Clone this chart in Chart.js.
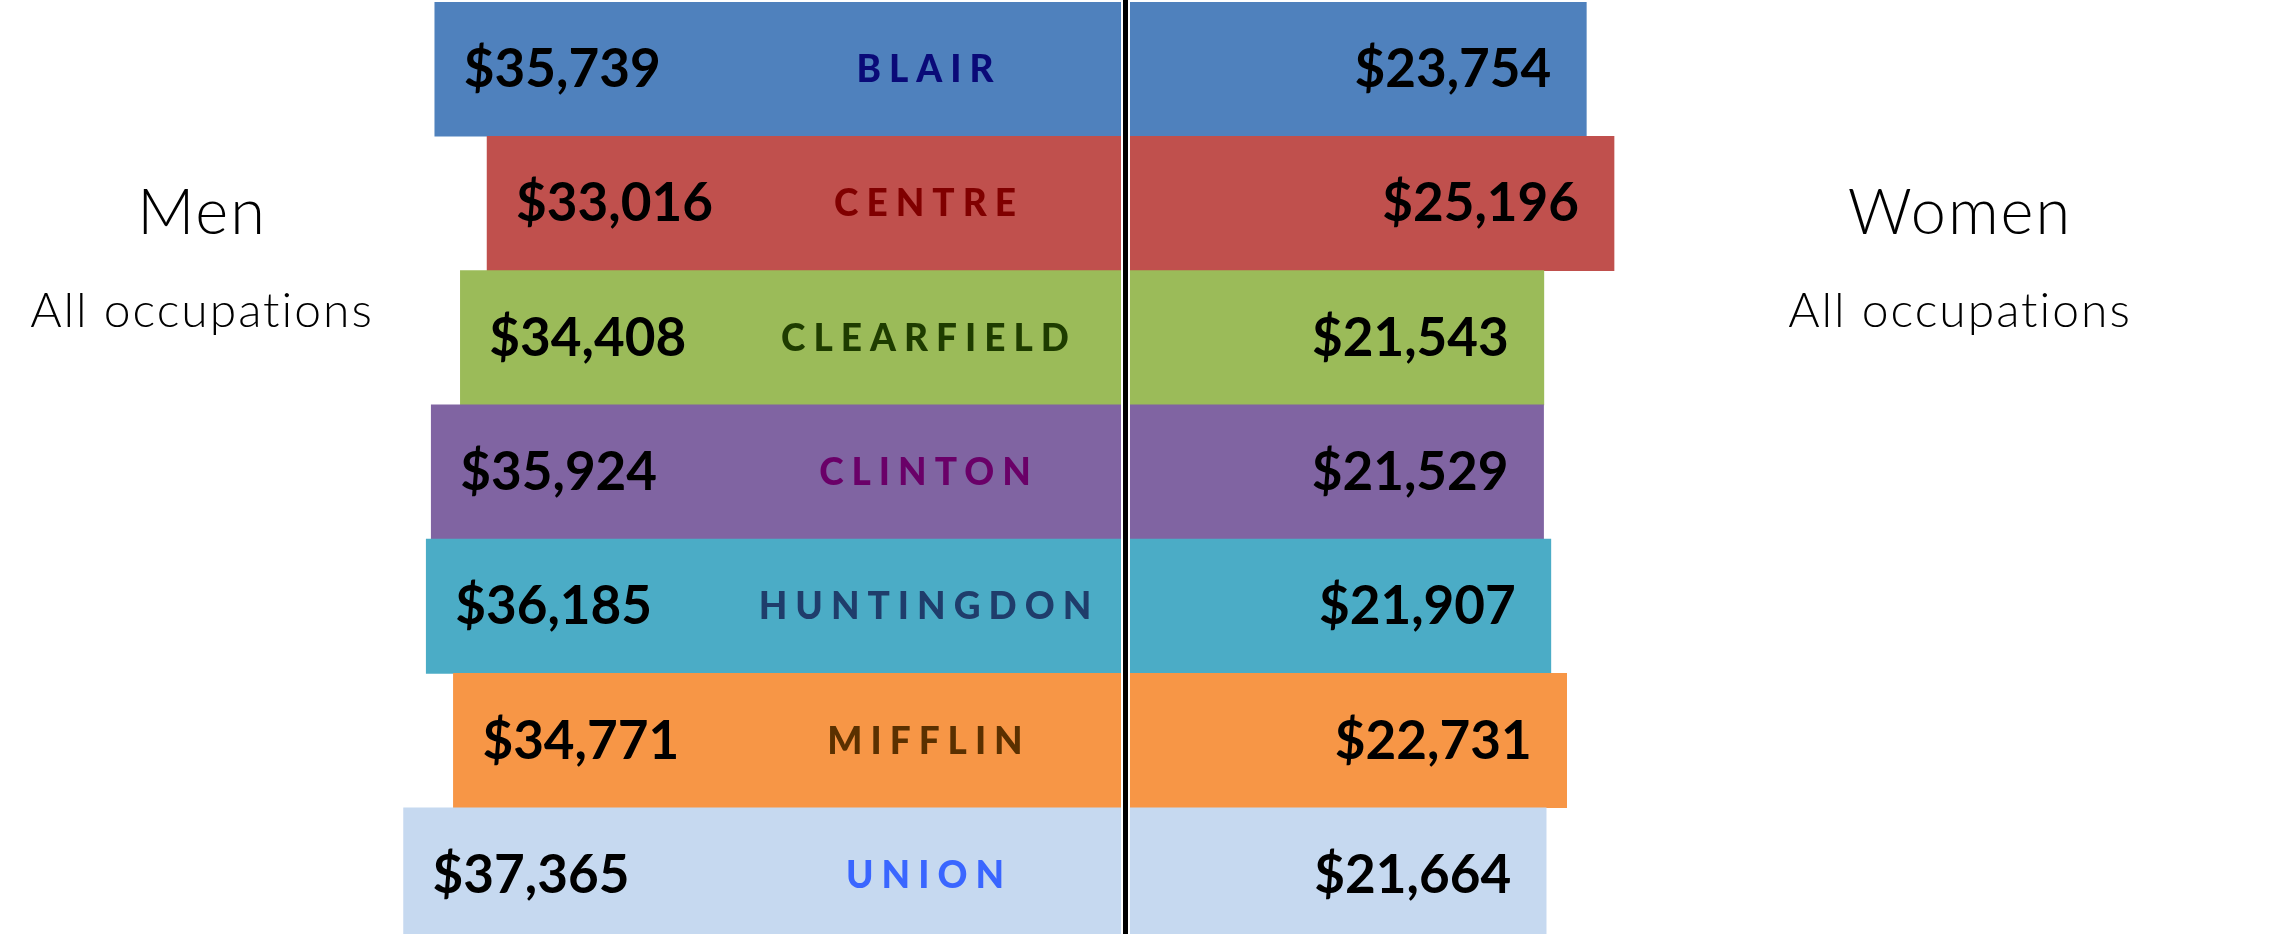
<!DOCTYPE html>
<html>
<head>
<meta charset="utf-8">
<script src="https://cdn.jsdelivr.net/npm/chart.js@4.4.0/dist/chart.umd.min.js"></script>
<style>
html,body{margin:0;padding:0;background:#fff;overflow:hidden}
body{width:2276px;height:934px;position:relative;font-family:Lato,"Open Sans",sans-serif}
.box{position:absolute;top:0;height:942px}
#menBox{left:0;width:1121px}
#womenBox{left:1130px;width:1146px}
#divider{position:absolute;left:1123px;top:0;width:5px;height:934px;background:#000}
.side{position:absolute;width:440px;text-align:center;color:#000;font-weight:300}
.side .t{font-size:63px;line-height:63px;height:63px;letter-spacing:2px}
.side .s{font-size:48px;line-height:48px;margin-top:44px;letter-spacing:2px}
</style>
</head>
<body>
<div class="box" id="menBox"><canvas id="men"></canvas></div>
<div class="box" id="womenBox"><canvas id="women"></canvas></div>
<div id="divider"></div>
<div class="side" style="left:-18px;top:178px"><div class="t">Men</div><div class="s">All occupations</div></div>
<div class="side" style="left:1740px;top:178px"><div class="t">Women</div><div class="s">All occupations</div></div>
<script>
const counties=["BLAIR","CENTRE","CLEARFIELD","CLINTON","HUNTINGDON","MIFFLIN","UNION"]
const menPay=[35739,33016,34408,35924,36185,34771,37365]
const womenPay=[23754,25196,21543,21529,21907,22731,21664]
const barColors=["#4f81bd","#c0504d","#9bbb59","#8064a2","#4bacc6","#f79646","#c6d9f0"]
const nameColors=["#0a0a78","#800000","#1e3c00","#6a0068","#1f3d6b","#5a3000","#3a66ff"]

const money=v=>"$"+v.toLocaleString("en-US")

// value text + county names drawn on top of the bars
const barText=side=>({
id:"barText_"+side,
afterDatasetsDraw(chart){
const ctx=chart.ctx
ctx.save()
ctx.textBaseline="alphabetic"
chart.getDatasetMeta(0).data.forEach((bar,i)=>{
ctx.fillStyle="#000"
ctx.font="bold 53px Lato"
if(side=="men"){
ctx.textAlign="left"
ctx.fillText(money(menPay[i]),bar.x+29,bar.y+18)
ctx.font="900 37px Lato"
ctx.letterSpacing="8px"
ctx.fillStyle=nameColors[i]
ctx.textAlign="center"
ctx.fillText(counties[i],bar.base-192,bar.y+13)
ctx.letterSpacing="0px"
}else{
ctx.textAlign="right"
ctx.fillText(money(womenPay[i]),bar.x-35,bar.y+18)
}
})
ctx.restore()
}
})

const makeChart=(id,values,reverse,max)=>new Chart(document.getElementById(id),{
type:"bar",
data:{labels:counties,datasets:[{data:values,backgroundColor:barColors,borderWidth:0,barPercentage:1,categoryPercentage:1}]},
options:{
indexAxis:"y",responsive:true,maintainAspectRatio:false,animation:false,
layout:{padding:{top:2,bottom:0,left:0,right:0}},
plugins:{legend:{display:false},tooltip:{enabled:false}},
scales:{
x:{display:false,min:0,max:max,reverse:reverse},
y:{display:false}
}
},
plugins:[barText(id)]
})

makeChart("men",menPay,true,58385)
makeChart("women",womenPay,false,59656)
</script>
</body>
</html>
